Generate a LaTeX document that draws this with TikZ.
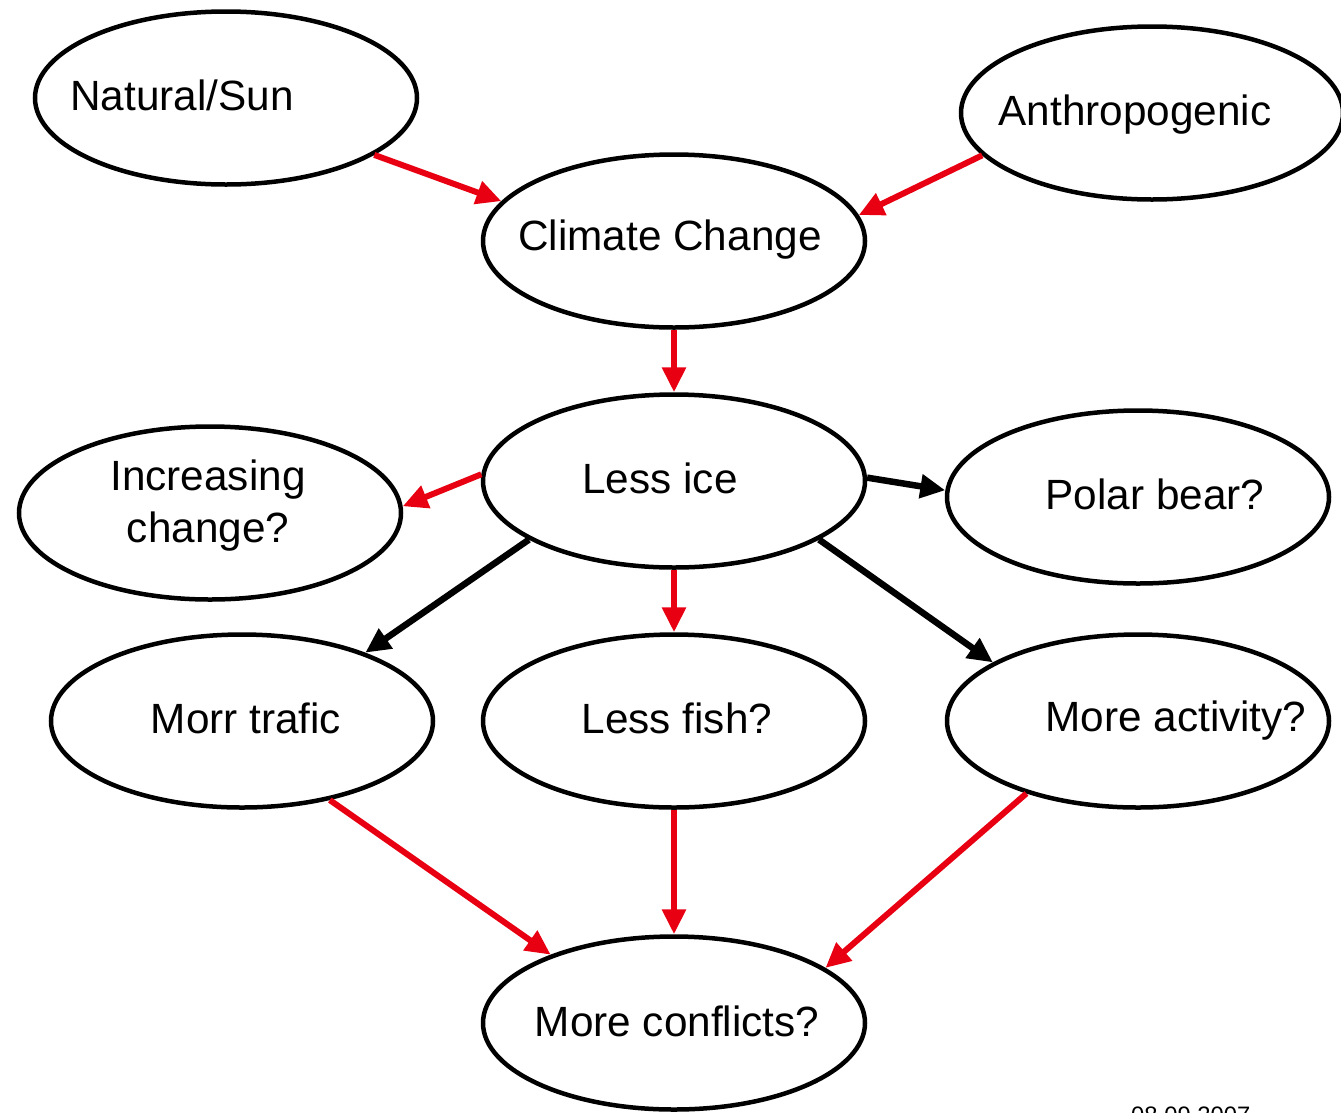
\documentclass[tikz,border=0pt]{standalone}
\usepackage{fontspec}
\setmainfont{Liberation Sans}
\usetikzlibrary{shapes.geometric,arrows.meta}
\definecolor{arrred}{RGB}{232,0,18}
\begin{document}
\begin{tikzpicture}[x=1pt,y=-1pt,
  oval/.style={ellipse,draw=black,line width=4.5pt,minimum width=382pt,minimum height=173pt,inner sep=0pt},
  lbl/.style={font=\fontsize{42.3}{52}\selectfont,inner sep=0pt,align=center},
  redarr/.style={draw=arrred,line width=6pt,-{Triangle[length=25pt,width=23pt]}},
  blkarr/.style={draw=black,line width=6.5pt,-{Triangle[length=25pt,width=23pt]}}]
\useasboundingbox (0,0) rectangle (1341,1112);
% ellipses
\node[oval] (nat) at (226,98) {};
\node[oval] (anth) at (1152,113) {};
\node[oval] (cc) at (674,241) {};
\node[oval] (li) at (674,481) {};
\node[oval] (inc) at (210,513) {};
\node[oval] (pb) at (1138,497) {};
\node[oval] (mt) at (242,721) {};
\node[oval] (lf) at (674,721) {};
\node[oval] (ma) at (1138,721) {};
\node[oval] (mc) at (674,1023) {};
% labels
\node[lbl] (tnat) at (182,95) {Natural/Sun};
\node[lbl] (tanth) at (1135,115) {Anthropogenic};
\node[lbl] (tcc) at (670,240) {Climate Change};
\node[lbl] (tli) at (660,478) {Less ice};
\node[lbl] (tinc) at (208,506) {Increasing\\change?};
\node[lbl] (tpb) at (1155,494) {Polar bear?};
\node[lbl] (tmt) at (246,718) {Morr trafic};
\node[lbl] (tlf) at (677,718) {Less fish?};
\node[lbl] (tma) at (1176,721) {More activity?};
\node[lbl] (tmc) at (677,1021) {More conflicts?};
\node[font=\fontsize{23.8}{28}\selectfont,inner sep=0pt,anchor=base west] (date) at (1131,1123) {08.09.2007};
% connectors
\draw[redarr] (nat.-21) -- (cc.167);
\draw[redarr] (anth.-166) -- (cc.8);
\draw[redarr] (cc.south) -- (li.north);
\draw[redarr] (li.178) -- (inc.2);
\draw[blkarr] (li.1.5) -- (pb.178.5);
\draw[blkarr] (li.-158) -- (mt.29);
\draw[redarr] (li.south) -- (lf.north);
\draw[blkarr] (li.-22) -- (ma.158.5);
\draw[redarr] (mt.-42) -- (mc.151.5);
\draw[redarr] (lf.south) -- (mc.north);
\draw[redarr] (ma.-147) -- (mc.20.6);
\end{tikzpicture}
\end{document}
